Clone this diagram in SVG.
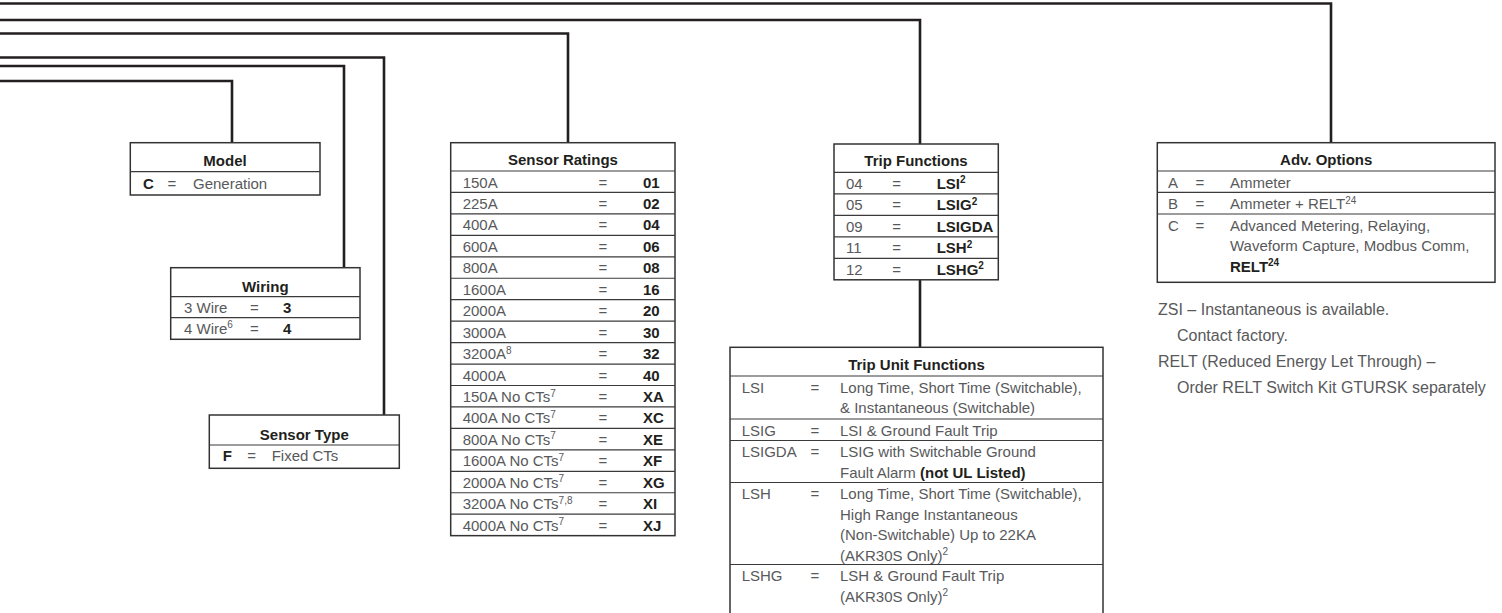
<svg xmlns="http://www.w3.org/2000/svg" width="1502" height="613" viewBox="0 0 1502 613">
<style>
.t{font-family:"Liberation Sans",Arial,sans-serif;font-size:15px;fill:#58595b}
.n{font-family:"Liberation Sans",Arial,sans-serif;font-size:16px;fill:#58595b}
.b{font-weight:bold;fill:#231f20}
.h{font-family:"Liberation Sans",Arial,sans-serif;font-size:15px;font-weight:bold;fill:#231f20;text-anchor:middle}
.e{text-anchor:middle}
.box{fill:#fff;stroke:#333;stroke-width:1.5}
.dv{stroke:#3a3a3a;stroke-width:1.2}
.con{fill:none;stroke:#231f20;stroke-width:2.6}
.sup{font-size:10px}
</style>
<rect width="1502" height="613" fill="#fff"/>
<g id="connectors">
<path class="con" d="M0,3.5 H1331 V142.7"/>
<path class="con" d="M0,20 H920 V144"/>
<path class="con" d="M0,33.5 H568 V142.7"/>
<path class="con" d="M0,57.5 H384 V415"/>
<path class="con" d="M0,66 H344 V267.7"/>
<path class="con" d="M0,81 H232 V142.7"/>
<path class="con" d="M920,280 V347.3"/>
</g>
<g id="model">
<rect class="box" x="130.3" y="142.7" width="189.7" height="52.3"/>
<line class="dv" x1="130.3" y1="171.7" x2="320" y2="171.7"/>
<text class="h" x="225" y="166">Model</text>
<text class="t b" x="143" y="188.5">C</text>
<text class="t e" x="172" y="188.5">=</text>
<text class="t" x="193" y="188.5">Generation</text>
</g>
<g id="wiring">
<rect class="box" x="170.7" y="267.7" width="189.3" height="71.6"/>
<line class="dv" x1="170.7" y1="296.7" x2="360" y2="296.7"/>
<line class="dv" x1="170.7" y1="317.7" x2="360" y2="317.7"/>
<text class="h" x="265.3" y="292">Wiring</text>
<text class="t" x="184" y="312.7">3 Wire</text>
<text class="t e" x="254.3" y="312.7">=</text>
<text class="t b" x="283" y="312.7">3</text>
<text class="t" x="184" y="333.5">4 Wire<tspan class="sup" dy="-5.5">6</tspan></text>
<text class="t e" x="254.3" y="333.5">=</text>
<text class="t b" x="283" y="333.5">4</text>
</g>
<g id="sensor-type">
<rect class="box" x="209.3" y="415" width="190" height="53.3"/>
<line class="dv" x1="209.3" y1="445" x2="399.3" y2="445"/>
<text class="h" x="304.3" y="439.5">Sensor Type</text>
<text class="t b" x="222.7" y="461">F</text>
<text class="t e" x="251.7" y="461">=</text>
<text class="t" x="271.7" y="461">Fixed CTs</text>
</g>
<g id="sensor-ratings">
<rect class="box" x="450.7" y="142.7" width="224.3" height="392.95"/>
<line class="dv" x1="450.7" y1="171" x2="675" y2="171"/>
<line class="dv" x1="450.7" y1="192.45" x2="675" y2="192.45"/>
<line class="dv" x1="450.7" y1="213.9" x2="675" y2="213.9"/>
<line class="dv" x1="450.7" y1="235.35" x2="675" y2="235.35"/>
<line class="dv" x1="450.7" y1="256.8" x2="675" y2="256.8"/>
<line class="dv" x1="450.7" y1="278.25" x2="675" y2="278.25"/>
<line class="dv" x1="450.7" y1="299.7" x2="675" y2="299.7"/>
<line class="dv" x1="450.7" y1="321.15" x2="675" y2="321.15"/>
<line class="dv" x1="450.7" y1="342.6" x2="675" y2="342.6"/>
<line class="dv" x1="450.7" y1="364.05" x2="675" y2="364.05"/>
<line class="dv" x1="450.7" y1="385.5" x2="675" y2="385.5"/>
<line class="dv" x1="450.7" y1="406.95" x2="675" y2="406.95"/>
<line class="dv" x1="450.7" y1="428.4" x2="675" y2="428.4"/>
<line class="dv" x1="450.7" y1="449.85" x2="675" y2="449.85"/>
<line class="dv" x1="450.7" y1="471.3" x2="675" y2="471.3"/>
<line class="dv" x1="450.7" y1="492.75" x2="675" y2="492.75"/>
<line class="dv" x1="450.7" y1="514.2" x2="675" y2="514.2"/>
<text class="h" x="562.9" y="165">Sensor Ratings</text>
<g class="t">
<text x="462.7" y="187.5">150A</text>
<text x="462.7" y="208.95">225A</text>
<text x="462.7" y="230.4">400A</text>
<text x="462.7" y="251.85">600A</text>
<text x="462.7" y="273.3">800A</text>
<text x="462.7" y="294.75">1600A</text>
<text x="462.7" y="316.2">2000A</text>
<text x="462.7" y="337.65">3000A</text>
<text x="462.7" y="359.1">3200A<tspan class="sup" dy="-5.5">8</tspan></text>
<text x="462.7" y="380.55">4000A</text>
<text x="462.7" y="402">150A No CTs<tspan class="sup" dy="-5.5">7</tspan></text>
<text x="462.7" y="423.45">400A No CTs<tspan class="sup" dy="-5.5">7</tspan></text>
<text x="462.7" y="444.9">800A No CTs<tspan class="sup" dy="-5.5">7</tspan></text>
<text x="462.7" y="466.35">1600A No CTs<tspan class="sup" dy="-5.5">7</tspan></text>
<text x="462.7" y="487.8">2000A No CTs<tspan class="sup" dy="-5.5">7</tspan></text>
<text x="462.7" y="509.25">3200A No CTs<tspan class="sup" dy="-5.5">7,8</tspan></text>
<text x="462.7" y="530.7">4000A No CTs<tspan class="sup" dy="-5.5">7</tspan></text>
</g>
<g class="t e">
<text x="603" y="187.5">=</text>
<text x="603" y="208.95">=</text>
<text x="603" y="230.4">=</text>
<text x="603" y="251.85">=</text>
<text x="603" y="273.3">=</text>
<text x="603" y="294.75">=</text>
<text x="603" y="316.2">=</text>
<text x="603" y="337.65">=</text>
<text x="603" y="359.1">=</text>
<text x="603" y="380.55">=</text>
<text x="603" y="402">=</text>
<text x="603" y="423.45">=</text>
<text x="603" y="444.9">=</text>
<text x="603" y="466.35">=</text>
<text x="603" y="487.8">=</text>
<text x="603" y="509.25">=</text>
<text x="603" y="530.7">=</text>
</g>
<g class="t b">
<text x="643" y="187.5">01</text>
<text x="643" y="208.95">02</text>
<text x="643" y="230.4">04</text>
<text x="643" y="251.85">06</text>
<text x="643" y="273.3">08</text>
<text x="643" y="294.75">16</text>
<text x="643" y="316.2">20</text>
<text x="643" y="337.65">30</text>
<text x="643" y="359.1">32</text>
<text x="643" y="380.55">40</text>
<text x="643" y="402">XA</text>
<text x="643" y="423.45">XC</text>
<text x="643" y="444.9">XE</text>
<text x="643" y="466.35">XF</text>
<text x="643" y="487.8">XG</text>
<text x="643" y="509.25">XI</text>
<text x="643" y="530.7">XJ</text>
</g>
</g>
<g id="trip-functions">
<rect class="box" x="834" y="144" width="164.3" height="135.8"/>
<line class="dv" x1="834" y1="172.3" x2="998.3" y2="172.3"/>
<line class="dv" x1="834" y1="193.8" x2="998.3" y2="193.8"/>
<line class="dv" x1="834" y1="215.3" x2="998.3" y2="215.3"/>
<line class="dv" x1="834" y1="236.8" x2="998.3" y2="236.8"/>
<line class="dv" x1="834" y1="258.3" x2="998.3" y2="258.3"/>
<text class="h" x="916" y="166">Trip Functions</text>
<g class="t">
<text x="846" y="188.8">04</text>
<text x="846" y="210.3">05</text>
<text x="846" y="231.8">09</text>
<text x="846" y="253.3">11</text>
<text x="846" y="274.8">12</text>
</g>
<g class="t e">
<text x="896.7" y="188.8">=</text>
<text x="896.7" y="210.3">=</text>
<text x="896.7" y="231.8">=</text>
<text x="896.7" y="253.3">=</text>
<text x="896.7" y="274.8">=</text>
</g>
<g class="t b">
<text x="936.7" y="188.8">LSI<tspan class="sup" dy="-5.5">2</tspan></text>
<text x="936.7" y="210.3">LSIG<tspan class="sup" dy="-5.5">2</tspan></text>
<text x="936.7" y="231.8">LSIGDA</text>
<text x="936.7" y="253.3">LSH<tspan class="sup" dy="-5.5">2</tspan></text>
<text x="936.7" y="274.8">LSHG<tspan class="sup" dy="-5.5">2</tspan></text>
</g>
</g>
<g id="trip-unit-functions">
<rect class="box" x="730" y="347.3" width="373" height="280"/>
<line class="dv" x1="730" y1="376" x2="1103" y2="376"/>
<line class="dv" x1="730" y1="419" x2="1103" y2="419"/>
<line class="dv" x1="730" y1="440.5" x2="1103" y2="440.5"/>
<line class="dv" x1="730" y1="482.5" x2="1103" y2="482.5"/>
<line class="dv" x1="730" y1="564.5" x2="1103" y2="564.5"/>
<text class="h" x="916.5" y="370">Trip Unit Functions</text>
<g class="t">
<text x="741.7" y="392.5">LSI</text>
<text x="741.7" y="435.5">LSIG</text>
<text x="741.7" y="457">LSIGDA</text>
<text x="741.7" y="499">LSH</text>
<text x="741.7" y="581">LSHG</text>
</g>
<g class="t e">
<text x="815" y="392.5">=</text>
<text x="815" y="435.5">=</text>
<text x="815" y="457">=</text>
<text x="815" y="499">=</text>
<text x="815" y="581">=</text>
</g>
<g class="t">
<text x="840" y="392.5">Long Time, Short Time (Switchable),</text>
<text x="840" y="413">&amp; Instantaneous (Switchable)</text>
<text x="840" y="435.5">LSI &amp; Ground Fault Trip</text>
<text x="840" y="457">LSIG with Switchable Ground</text>
<text x="840" y="477.5">Fault Alarm <tspan class="b">(not UL Listed)</tspan></text>
<text x="840" y="499">Long Time, Short Time (Switchable),</text>
<text x="840" y="519.5">High Range Instantaneous</text>
<text x="840" y="540">(Non-Switchable) Up to 22KA</text>
<text x="840" y="560.5">(AKR30S Only)<tspan class="sup" dy="-5.5">2</tspan></text>
<text x="840" y="581">LSH &amp; Ground Fault Trip</text>
<text x="840" y="601.5">(AKR30S Only)<tspan class="sup" dy="-5.5">2</tspan></text>
</g>
</g>
<g id="adv-options">
<rect class="box" x="1157.3" y="142.7" width="337.7" height="139.6"/>
<line class="dv" x1="1157.3" y1="171" x2="1495" y2="171"/>
<line class="dv" x1="1157.3" y1="192.3" x2="1495" y2="192.3"/>
<line class="dv" x1="1157.3" y1="214" x2="1495" y2="214"/>
<text class="h" x="1326.2" y="165">Adv. Options</text>
<g class="t">
<text x="1168" y="187.5">A</text>
<text x="1168" y="209">B</text>
<text x="1168" y="230.5">C</text>
</g>
<g class="t e">
<text x="1200" y="187.5">=</text>
<text x="1200" y="209">=</text>
<text x="1200" y="230.5">=</text>
</g>
<g class="t">
<text x="1230" y="187.5">Ammeter</text>
<text x="1230" y="209">Ammeter + RELT<tspan class="sup" dy="-5.5">24</tspan></text>
<text x="1230" y="230.5">Advanced Metering, Relaying,</text>
<text x="1230" y="251">Waveform Capture, Modbus Comm,</text>
<text class="b" x="1230" y="271.5">RELT<tspan class="sup" dy="-5.5">24</tspan></text>
</g>
</g>
<g id="notes" class="n">
<text x="1158" y="315">ZSI – Instantaneous is available.</text>
<text x="1177" y="341">Contact factory.</text>
<text x="1158" y="367">RELT (Reduced Energy Let Through) –</text>
<text x="1177" y="393">Order RELT Switch Kit GTURSK separately</text>
</g>
</svg>
